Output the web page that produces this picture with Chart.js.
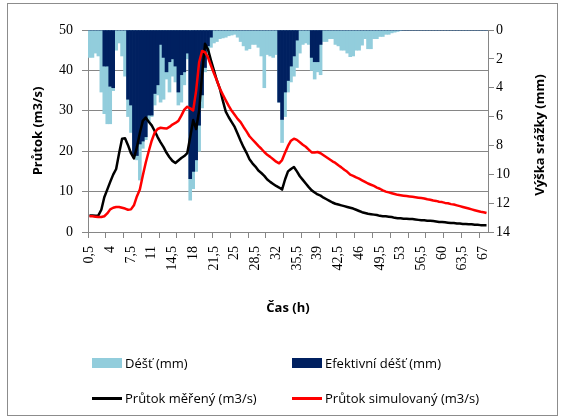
<!DOCTYPE html>
<html>
<head>
<meta charset="utf-8">
<script src="https://cdn.jsdelivr.net/npm/chart.js@4.4.1/dist/chart.umd.min.js"></script>
<style>
body { margin: 0; background: #fff; }
#wrap { position: relative; width: 563px; height: 419px; }
#frame { position: absolute; left: 7px; top: 3px; width: 549px; height: 411px; border: 1px solid #8c8c8c; }
canvas { position: absolute; left: 0; top: 0; }
.leg { position: absolute; font: 13px "Open Sans", sans-serif; color: #000; display: flex; align-items: center; white-space: nowrap; height: 18px; }
.leg i { display: inline-block; width: 30px; margin-right: 3px; }
</style>
</head>
<body>
<div id="wrap">
<div id="frame"></div>
<canvas id="myChart" width="563" height="419"></canvas>
<div class="leg" style="left:92px;top:354px"><i style="height:10px;background:#92CDDC"></i>Déšť (mm)</div>
<div class="leg" style="left:292px;top:354px"><i style="height:10px;background:#002060"></i>Efektivní déšť (mm)</div>
<div class="leg" style="left:92px;top:389px"><i style="height:3px;background:#000"></i>Průtok měřený (m3/s)</div>
<div class="leg" style="left:292px;top:389px"><i style="height:3px;background:#ff0000"></i>Průtok simulovaný (m3/s)</div>
</div>
<script>
const ctx = document.getElementById('myChart').getContext('2d')

// time (h)
const hours = [
    0.5, 1, 1.5, 2, 2.5, 3, 3.5, 4, 4.5, 5,
    5.5, 6, 6.5, 7, 7.5, 8, 8.5, 9, 9.5, 10,
    10.5, 11, 11.5, 12, 12.5, 13, 13.5, 14, 14.5, 15,
    15.5, 16, 16.5, 17, 17.5, 18, 18.5, 19, 19.5, 20,
    20.5, 21, 21.5, 22, 22.5, 23, 23.5, 24, 24.5, 25,
    25.5, 26, 26.5, 27, 27.5, 28, 28.5, 29, 29.5, 30,
    30.5, 31, 31.5, 32, 32.5, 33, 33.5, 34, 34.5, 35,
    35.5, 36, 36.5, 37, 37.5, 38, 38.5, 39, 39.5, 40,
    40.5, 41, 41.5, 42, 42.5, 43, 43.5, 44, 44.5, 45,
    45.5, 46, 46.5, 47, 47.5, 48, 48.5, 49, 49.5, 50,
    50.5, 51, 51.5, 52, 52.5, 53, 53.5, 54, 54.5, 55,
    55.5, 56, 56.5, 57, 57.5, 58, 58.5, 59, 59.5, 60,
    60.5, 61, 61.5, 62, 62.5, 63, 63.5, 64, 64.5, 65,
    65.5, 66, 66.5, 67, 67.5
];

// rain (mm)
const rain = [
    1.9, 1.9, 1.6, 1.8, 4.3, 5.8, 6.5, 6.5, 4.2, 1.4,
    0.9, 1.8, 3.2, 6.0, 7.1, 8.8, 9.0, 10.4, 8.2, 7.6,
    6.4, 6.0, 5.2, 4.5, 5.0, 4.8, 3.4, 4.3, 3.2, 3.6,
    5.2, 5.0, 3.8, 2.0, 11.8, 11.0, 9.8, 8.4, 5.4, 2.9,
    1.7, 1.2, 0.9, 0.8, 0.6, 0.55, 0.5, 0.4, 0.35, 0.3,
    0.5, 0.8, 1.1, 1.4, 1.3, 1.0, 1.0, 1.2, 1.8, 4.0,
    1.7, 1.8, 1.9, 1.7, 5.0, 7.8, 6.0, 4.3, 3.6, 3.2,
    2.6, 1.6, 1.0, 0.9, 1.0, 2.8, 3.4, 2.9, 3.1, 0.8,
    0.8, 0.6, 0.6, 1.0, 1.1, 1.4, 1.4, 1.6, 1.85, 1.8,
    1.4, 1.4, 1.05, 0.6, 1.3, 1.3, 0.6, 0.6, 0.45, 0.45,
    0.3, 0.3, 0.2, 0.15, 0.1, 0.05, 0, 0, 0, 0,
    0, 0, 0, 0, 0, 0, 0, 0, 0, 0,
    0, 0, 0, 0, 0, 0, 0, 0, 0, 0,
    0, 0, 0, 0, 0
];

// effective rain (mm)
const effRain = [
    0, 0, 0, 0, 0, 2.5, 2.5, 3.9, 4.0, 0,
    0, 0, 0, 4.8, 5.2, 8.7, 8.7, 7.9, 7.7, 7.4,
    5.9, 5.9, 4.4, 3.8, 1.0, 1.9, 2.9, 2.2, 2.0, 2.5,
    4.3, 3.1, 2.9, 1.6, 10.3, 9.8, 9.0, 6.6, 4.5, 2.6,
    1.1, 0.5, 0, 0, 0, 0, 0, 0, 0, 0,
    0, 0, 0, 0, 0, 0, 0, 0, 0, 0,
    0, 0, 0, 0, 5.0, 6.2, 4.3, 3.5, 2.5, 1.8,
    0.7, 0, 0, 0, 0, 1.9, 2.2, 2.2, 1.0, 0,
    0, 0, 0, 0, 0, 0, 0, 0, 0, 0,
    0, 0, 0, 0, 0, 0, 0, 0, 0, 0,
    0, 0, 0, 0, 0, 0, 0, 0, 0, 0,
    0, 0, 0, 0, 0, 0, 0, 0, 0, 0,
    0, 0, 0, 0, 0, 0, 0, 0, 0, 0,
    0, 0, 0, 0, 0
];

// measured flow (m3/s)
const measured = [
    4.1, 4.1, 4.0, 4.1, 5.5, 8.6, 10.5, 12.4, 14.2, 15.6,
    19.5, 23.1, 23.2, 21.5, 19.5, 18.2, 21.0, 24.5, 27.5, 28.3,
    27.3, 26.4, 25.0, 23.5, 22.2, 21.0, 19.6, 18.5, 17.6, 17.1,
    17.7, 18.3, 18.8, 19.5, 23.5, 27.7, 25.5, 30.0, 39.0, 46.6,
    45.2, 42.5, 40.0, 37.5, 35.5, 32.5, 29.8, 28.4, 27.2, 26.0,
    24.3, 22.6, 21.0, 19.6, 18.0, 17.0, 16.2, 15.2, 14.6, 13.9,
    13.0, 12.4, 11.9, 11.4, 11.0, 10.5, 13.0, 15.0, 15.6, 16.1,
    15.0, 13.8, 12.9, 12.0, 11.1, 10.3, 9.8, 9.3, 9.0, 8.5,
    8.1, 7.7, 7.3, 7.0, 6.8, 6.6, 6.4, 6.2, 6.0, 5.8,
    5.5, 5.2, 4.9, 4.7, 4.5, 4.4, 4.3, 4.2, 4.0, 3.9,
    3.9, 3.8, 3.7, 3.5, 3.4, 3.4, 3.3, 3.3, 3.2, 3.2,
    3.1, 3.0, 2.9, 2.9, 2.8, 2.8, 2.7, 2.6, 2.5, 2.5,
    2.4, 2.3, 2.2, 2.2, 2.1, 2.1, 2.0, 2.0, 1.9, 1.9,
    1.8, 1.8, 1.7, 1.7, 1.7
];

// simulated flow (m3/s)
const simulated = [
    3.9, 3.9, 3.8, 3.7, 3.7, 3.9, 4.6, 5.6, 6.0, 6.2,
    6.2, 6.0, 5.8, 5.5, 5.6, 6.6, 8.8, 10.5, 14.0, 17.2,
    20.0, 22.6, 24.6, 25.5, 25.8, 25.7, 25.6, 26.0, 26.6, 27.0,
    27.5, 28.8, 30.3, 31.0, 30.6, 30.1, 35.0, 42.0, 44.8, 44.5,
    43.2, 41.2, 39.3, 37.5, 35.5, 34.0, 32.6, 31.2, 30.0, 29.0,
    28.0, 27.2, 26.0, 24.9, 23.7, 22.9, 22.1, 21.3, 20.6, 19.8,
    19.1, 18.6, 18.0, 17.4, 17.0, 17.8, 19.6, 21.3, 22.6, 23.1,
    22.8, 22.2, 21.6, 21.1, 20.4, 19.7, 19.7, 19.8, 19.5, 19.0,
    18.5, 18.0, 17.5, 17.1, 16.5, 16.0, 15.4, 14.9, 14.2, 13.9,
    13.5, 13.2, 12.8, 12.4, 12.0, 11.7, 11.4, 11.0, 10.7, 10.3,
    10.0, 9.8, 9.6, 9.4, 9.2, 9.1, 9.0, 8.9, 8.8, 8.7,
    8.6, 8.5, 8.4, 8.3, 8.1, 8.0, 7.8, 7.7, 7.5, 7.4,
    7.2, 7.1, 6.9, 6.8, 6.6, 6.4, 6.2, 6.0, 5.8, 5.6,
    5.4, 5.2, 5.0, 4.9, 4.7
];

const grey = '#868686';
const tickFont = { family: 'Liberation Serif', size: 14 };
const titleFont = { family: 'Open Sans', size: 13, weight: 'bold' };

// right axis title reads bottom to top, like in the original
const rightTitle = {
    id: 'rightTitle',
    afterDraw(chart) {
        const c = chart.ctx;
        c.save();
        c.translate(540, 135);
        c.rotate(-Math.PI / 2);
        c.font = 'bold 13px "Open Sans"';
        c.fillStyle = '#000';
        c.textAlign = 'center';
        c.textBaseline = 'middle';
        c.fillText('Výška srážky (mm)', 0, 0);
        c.restore();
    }
};

const myChart = new Chart(ctx, {
    type: 'bar',
    data: {
    labels: hours,
    datasets: [
        {
        type: 'line',
        label: 'Průtok simulovaný (m3/s)',
        data: simulated,
        yAxisID: 'y',
        borderColor: '#ff0000',
        borderWidth: 2.5,
        borderJoinStyle: 'round',
        pointRadius: 0,
        tension: 0,
        order: 0,
        },
        {
        type: 'line',
        label: 'Průtok měřený (m3/s)',
        data: measured,
        yAxisID: 'y',
        borderColor: '#000000',
        borderWidth: 2.5,
        borderJoinStyle: 'round',
        pointRadius: 0,
        tension: 0,
        order: 1,
        },
        {
        label: 'Efektivní déšť (mm)',
        data: effRain,
        yAxisID: 'y2',
        backgroundColor: '#002060',
        barPercentage: 1,
        categoryPercentage: 1,
        grouped: false,
        borderWidth: 0,
        order: 2,
        },
        {
        label: 'Déšť (mm)',
        data: rain,
        yAxisID: 'y2',
        backgroundColor: '#92CDDC',
        barPercentage: 1,
        categoryPercentage: 1,
        grouped: false,
        borderWidth: 0,
        order: 3,
        },
    ],
    },
    options: {
    responsive: false,
    animation: false,
    layout: { padding: { left: 7, right: 7, top: 30, bottom: 99 } },
    plugins: {
        legend: { display: false },
        tooltip: { enabled: false },
    },
    scales: {
        x: {
        offset: true,
        grid: {
            offset: true,
            drawOnChartArea: false,
            tickLength: 6,
            tickColor: (c) => (c.index % 6 === 0 ? grey : 'rgba(0,0,0,0)'),
        },
        border: { color: grey },
        ticks: {
            autoSkip: false,
            minRotation: 90,
            maxRotation: 90,
            padding: 8,
            color: '#000',
            font: tickFont,
            callback: function (v, i) {
                return i % 7 === 0 ? String(hours[i]).replace('.', ',') : '';
            },
        },
        title: { display: true, text: 'Čas (h)', color: '#000', font: titleFont, padding: { top: 0, bottom: 4 } },
        afterFit: (s) => { s.height = 88; },
        },
        y: {
        position: 'left',
        min: 0,
        max: 50,
        ticks: { stepSize: 10, padding: 9, color: '#000', font: tickFont },
        grid: { color: grey, tickLength: 6 },
        border: { color: grey },
        title: { display: true, text: 'Průtok (m3/s)', color: '#000', font: titleFont, padding: { top: 23, bottom: 0 } },
        afterFit: (s) => { s.width = 81; },
        },
        y2: {
        position: 'right',
        min: 0,
        max: 14,
        reverse: true,
        ticks: { stepSize: 2, padding: 2, color: '#000', font: tickFont },
        grid: { drawOnChartArea: false, tickLength: 6, tickColor: grey },
        border: { color: grey },
        afterFit: (s) => { s.width = 68; },
        },
    },
    },
    plugins: [rightTitle],
})
</script>
</body>
</html>
